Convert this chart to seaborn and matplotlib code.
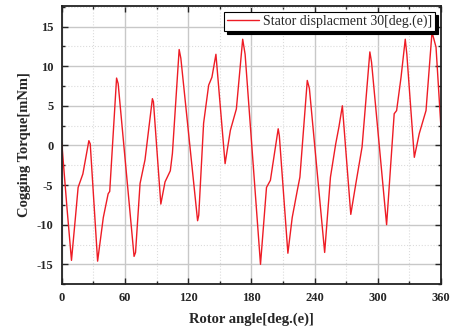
import numpy as np
import pandas as pd
import matplotlib
matplotlib.use("Agg")
import matplotlib.pyplot as plt
import seaborn as sns
from matplotlib.ticker import MultipleLocator

# Rotor angle [deg.(e)] and cogging torque [mNm]
angle = [0, 5, 9.2, 13, 15.5, 20, 25.7, 27, 34, 39.4, 44, 45.5, 52, 53.5,
         68.6, 70, 74.3, 79, 86, 87, 94, 98, 103, 105, 111.4, 113, 128.9, 130,
         134.6, 139.4, 142.5, 146.3, 155, 160, 165.7, 171.7, 174, 188.6, 194.3,
         198, 205.4, 206.5, 214.6, 218.7, 223.5, 226, 233, 235, 249.5, 255, 260,
         263, 266.3, 274.3, 279, 285, 292.4, 294, 308.3, 315.5, 317.8, 322, 326,
         327.5, 334.6, 339.3, 345.7, 351.4, 355.2, 360]
torque = [0.3, -8, -14.5, -9, -5.3, -3.6, 0.6, 0.2, -14.6, -9.1, -6.1, -5.8, 8.5, 7.8,
          -14.0, -13.5, -4.8, -1.8, 5.9, 5.5, -7.4, -4.6, -3.2, -1, 12.1, 11, -9.5, -8.8,
          2.8, 7.6, 8.6, 11.5, -2.3, 1.9, 4.6, 13.4, 11.5, -15.0, -5.3,
          -4.4, 2.1, 1.2, -13.6, -9.1, -5.7, -4, 8.2, 7.2, -13.5, -4.0, 0.2,
          2.3, 5.0, -8.7, -4.9, -0.2, 11.8, 10.5, -10.0, 4.0, 4.4, 8.6, 13.4,
          11.5, -1.5, 1.5, 4.4, 14.3, 12.4, 2.0]
series_label = "Stator displacment 30[deg.(e)]"

df = pd.DataFrame({"angle": angle, "torque": torque})

sns.set_style("ticks")
plt.rcParams["font.family"] = ["Liberation Serif", "DejaVu Serif"]
plt.rcParams["axes.unicode_minus"] = False

fig = plt.figure(figsize=(4.51, 3.30), dpi=100)
ax = fig.add_axes([0.137, 0.139, 0.841, 0.843])

sns.lineplot(data=df, x="angle", y="torque", color="#ee1c25", linewidth=1.0,
             sort=False, estimator=None, label=series_label, ax=ax)

ax.set_xlim(0, 360)
ax.set_ylim(-17.5, 17.6)
ax.xaxis.set_major_locator(MultipleLocator(60))
ax.xaxis.set_minor_locator(MultipleLocator(30))
ax.yaxis.set_major_locator(MultipleLocator(5))
ax.yaxis.set_minor_locator(MultipleLocator(2.5))

ax.grid(True, which="major", color="#c8c8c8", linewidth=1.0)
ax.grid(True, which="minor", color="#dcdcdc", linewidth=0.8, linestyle=":")
ax.set_axisbelow(True)

for sp in ax.spines.values():
    sp.set_linewidth(1.3)
    sp.set_color("#222222")
ax.tick_params(which="both", direction="in", top=True, right=True, width=1.0)
ax.tick_params(which="major", length=4, labelsize=9, pad=6)
ax.tick_params(which="minor", length=2.5)
for lab in ax.get_xticklabels() + ax.get_yticklabels():
    lab.set_fontweight("bold")

ax.set_xlabel("Rotor angle[deg.(e)]", fontsize=10.5, fontweight="bold", labelpad=6)
ax.set_ylabel("Cogging Torque[mNm]", fontsize=10.5, fontweight="bold", labelpad=4)

leg = ax.legend(loc="upper right", fontsize=10, frameon=True, fancybox=False,
                shadow={"color": "black", "alpha": 1.0, "ox": 2, "oy": -2},
                borderaxespad=0.45, handlelength=2.3, borderpad=0.2,
                handletextpad=0.3)
leg.get_frame().set_edgecolor("black")
leg.get_frame().set_linewidth(0.8)

fig.savefig("out.png", dpi=100)
